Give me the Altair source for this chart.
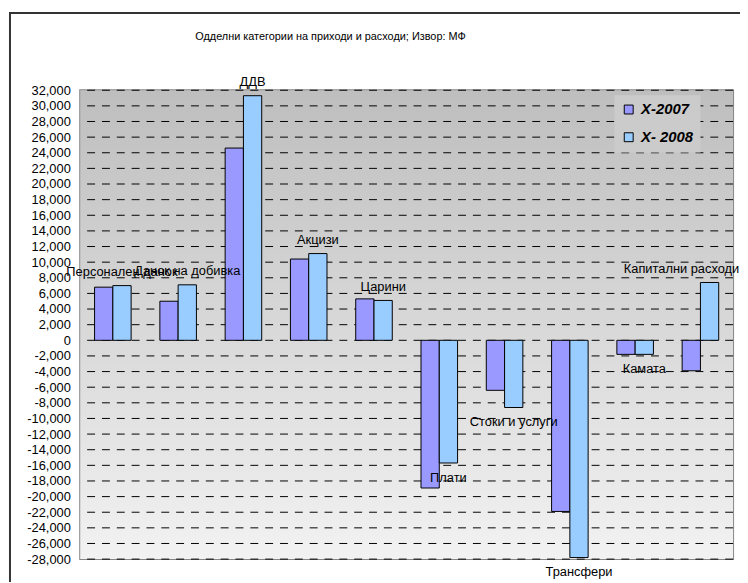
import altair as alt
import pandas as pd

categories = ["Персонален данок", "Данок на добивка", "ДДВ", "Акцизи", "Царини",
              "Плати", "Стоки и услуги", "Трансфери", "Камата", "Капитални расходи"]
series_names = ["X-2007", "X- 2008"]
values_2007 = [6800, 5000, 24600, 10400, 5300, -18900, -6400, -21900, -1800, -3900]
values_2008 = [7000, 7100, 31300, 11100, 5100, -15700, -8600, -27800, -1800, 7400]
tick_values = list(range(-28000, 32001, 2000))
colors = ["#9999FF", "#99CCFF"]
title_text = "Одделни категории на приходи и расходи; Извор: МФ"

rows = []
for c, a, b in zip(categories, values_2007, values_2008):
    rows.append({"category": c, "series": series_names[0], "value": a})
    rows.append({"category": c, "series": series_names[1], "value": b})
df = pd.DataFrame(rows)

FONT = "Liberation Sans"
W, H = 660, 474

yscale = alt.Scale(domain=[-28000, 32000], nice=False, zero=False)
xscale = alt.Scale(paddingInner=0.44, paddingOuter=0.22)
xoff_scale = alt.Scale(paddingInner=0, paddingOuter=0)
yaxis = alt.Axis(values=tick_values, grid=False, ticks=False, domain=False, title=None,
                 labelPadding=10, labelFontSize=13, labelFont=FONT, labelColor="black",
                 labelExpr="(datum.value < 0 ? '-' : '') + format(abs(datum.value), ',d')")

one = pd.DataFrame({"a": [0]})

bg = alt.Chart(one).mark_rect(
    color=alt.LinearGradient(
        gradient="linear",
        stops=[alt.GradientStop(color="#bebebe", offset=0),
               alt.GradientStop(color="#f2f2f2", offset=1)],
        x1=0, x2=0, y1=0, y2=1,
    )
).encode(x=alt.value(0), x2=alt.value(W), y=alt.value(0), y2=alt.value(H))

grid = alt.Chart(pd.DataFrame({"t": tick_values})).mark_rule(
    color="black", strokeDash=[8, 7], strokeWidth=1
).encode(y=alt.Y("t:Q", scale=yscale, axis=yaxis))

bars = alt.Chart(df).mark_bar(stroke="black", strokeWidth=1).encode(
    x=alt.X("category:N", sort=categories, scale=xscale, axis=None),
    xOffset=alt.XOffset("series:N", sort=series_names, scale=xoff_scale),
    y=alt.Y("value:Q", scale=yscale, axis=yaxis),
    color=alt.Color("series:N", sort=series_names,
                    scale=alt.Scale(domain=series_names, range=colors),
                    legend=alt.Legend(orient="none", legendX=540, legendY=5, title=None,
                                      fillColor="#cbcbcb", padding=7, rowPadding=12,
                                      symbolType="square", symbolSize=81,
                                      symbolStrokeColor="black", symbolStrokeWidth=1,
                                      labelFontSize=15, labelFontWeight="bold",
                                      labelFontStyle="italic", labelFont=FONT,
                                      labelColor="black", labelOffset=5)),
)

lbl_common = dict(
    x=alt.X("category:N", sort=categories, scale=xscale, axis=None),
    xOffset=alt.XOffset("series:N", sort=series_names, scale=xoff_scale),
    y=alt.Y("value:Q", scale=yscale, axis=yaxis),
    text="category:N",
)
last_cat = categories[-1]

labels_pos = alt.Chart(df).transform_filter(
    f"datum.series == 'X- 2008' && datum.value >= 0 && datum.category != '{last_cat}'"
).mark_text(fontSize=13, font=FONT, color="black", baseline="middle", dy=-14).encode(**lbl_common)

labels_edge = alt.Chart(df).transform_filter(
    f"datum.series == 'X- 2008' && datum.category == '{last_cat}'"
).mark_text(fontSize=13, font=FONT, color="black", baseline="middle", align="right",
            dx=30, dy=-14).encode(**lbl_common)

labels_neg = alt.Chart(df).transform_filter(
    "datum.series == 'X- 2008' && datum.value < 0"
).mark_text(fontSize=13, font=FONT, color="black", baseline="middle", dy=15).encode(**lbl_common)

frame = alt.Chart(one).mark_rect(filled=False, stroke="#333333", strokeWidth=2).encode(
    x=alt.value(-71), x2=alt.value(720), y=alt.value(-78), y2=alt.value(540)
)

chart = alt.layer(bg, grid, bars, labels_pos, labels_edge, labels_neg, frame).properties(
    width=W, height=H,
    title=alt.TitleParams(title_text, fontSize=11, font=FONT, fontWeight="normal",
                          color="black", anchor="middle", frame="group", dx=-77,
                          baseline="middle", offset=-36),
    autosize=alt.AutoSizeParams(type="none"),
    padding={"left": 73, "top": 80, "right": 7, "bottom": 20},
).configure_view(stroke="#868686", strokeWidth=2)

chart.save("out.html", embed_options={"renderer": "svg", "actions": False})
